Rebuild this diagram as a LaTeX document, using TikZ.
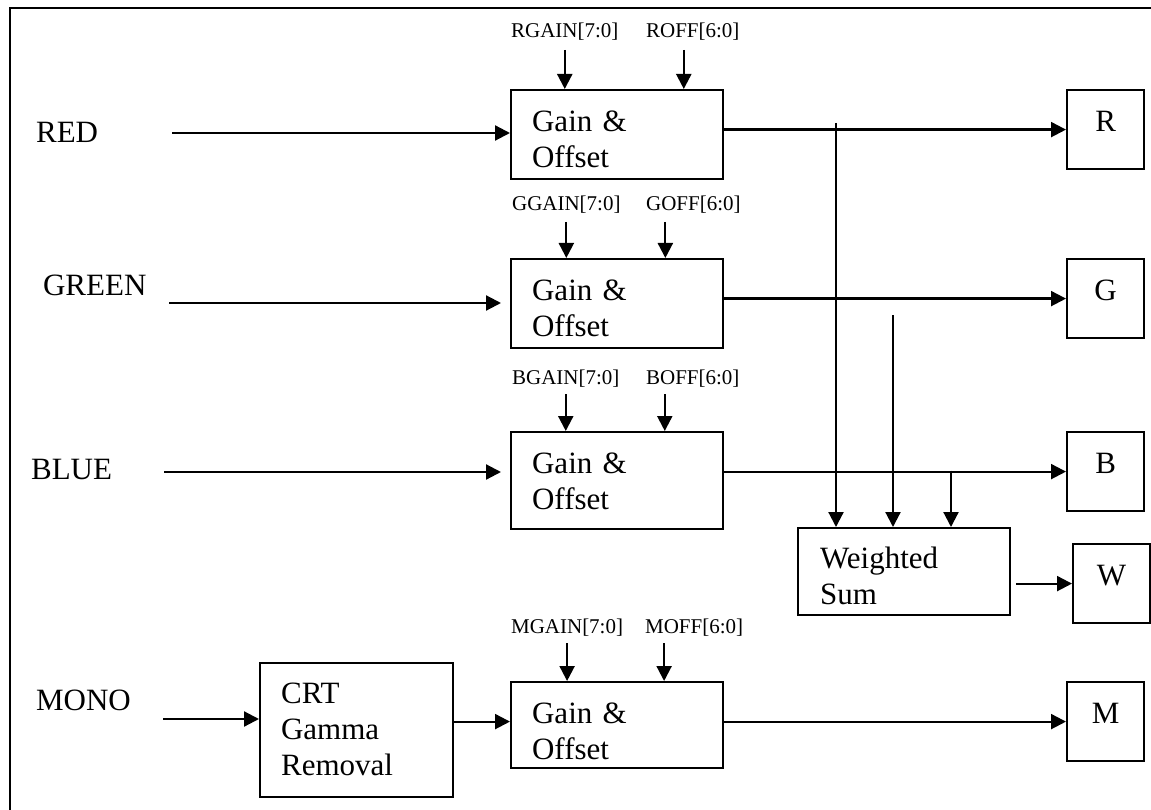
\documentclass[tikz,border=0pt]{standalone}
\usepackage{fontspec}
\setmainfont{Liberation Serif}
\usetikzlibrary{arrows.meta}
\newcommand\bigtxt{\fontsize{31}{36}\selectfont}
\newcommand\smalltxt{\fontsize{21}{24}\selectfont}
\begin{document}
\begin{tikzpicture}[x=1pt,y=-1pt,>={Triangle[length=15pt,width=15pt]},line width=2.2pt,
    blk/.style={draw,anchor=north west,inner xsep=21pt,inner ysep=0pt,text width=170pt,text height=41pt,align=left,font=\bigtxt},
    outbox/.style={draw,anchor=north west,inner sep=0pt,text width=77pt,text height=41pt,text depth=38pt,align=center,font=\bigtxt},
    ctl/.style={anchor=base west,inner sep=0pt,font=\smalltxt},
    sig/.style={anchor=base west,inner sep=0pt,font=\bigtxt}]
    \useasboundingbox (0,0) rectangle (1151,810);
    \draw (1151,8)--(10,8)--(10,810);

    % input names
    \node[sig] (red) at (35,143) {RED};
    \node[sig] (green) at (42,295) {GREEN};
    \node[sig] (blue) at (30,479) {BLUE};
    \node[sig] (mono) at (35,710) {MONO};

    % blocks
    \node[blk,text depth=48pt] (g1) at (510,89) {Gain \&\\Offset};
    \node[blk,text depth=48pt] (g2) at (510,258) {Gain \&\\Offset};
    \node[blk,text depth=56pt] (g3) at (510,431) {Gain \&\\Offset};
    \node[blk,text depth=45pt] (g4) at (510,681) {Gain \&\\Offset};
    \node[blk,text width=151pt,text height=40pt,text depth=94pt] (crt) at (259,662) {CRT\\Gamma\\Removal};
    \node[blk,inner xsep=22pt,text width=168pt,text height=40pt,text depth=47pt] (ws) at (797,527) {Weighted\\Sum};

    % outputs
    \node[outbox] (r) at (1066,89) {R};
    \node[outbox] (g) at (1066,258) {G};
    \node[outbox] (b) at (1066,431) {B};
    \node[outbox] (w) at (1072,543) {W};
    \node[outbox] (m) at (1066,681) {M};

    % gain and offset controls
    \node[ctl] (rgain) at (510,38) {RGAIN[7:0]};
    \node[ctl] (roff) at (645,38) {ROFF[6:0]};
    \node[ctl] (ggain) at (511,211) {GGAIN[7:0]};
    \node[ctl] (goff) at (645,211) {GOFF[6:0]};
    \node[ctl] (bgain) at (511,384) {BGAIN[7:0]};
    \node[ctl] (boff) at (645,384) {BOFF[6:0]};
    \node[ctl] (mgain) at (510,633) {MGAIN[7:0]};
    \node[ctl] (moff) at (644,633) {MOFF[6:0]};

    \draw[->]([yshift=-12pt]rgain.base)--(rgain.base |- g1.north);
    \draw[->]([xshift=-9pt,yshift=-12pt]roff.base)--([xshift=-9pt]roff.base |- g1.north);
    \draw[->]([yshift=-11pt]ggain.base)--(ggain.base |- g2.north);
    \draw[->]([xshift=-28pt,yshift=-11pt]goff.base)--([xshift=-28pt]goff.base |- g2.north);
    \draw[->]([yshift=-10pt]bgain.base)--(bgain.base |- g3.north);
    \draw[->]([xshift=-28pt,yshift=-10pt]boff.base)--([xshift=-28pt]boff.base |- g3.north);
    \draw[->]([yshift=-10pt]mgain.base)--(mgain.base |- g4.north);
    \draw[->]([xshift=-30pt,yshift=-10pt]moff.base)--([xshift=-30pt]moff.base |- g4.north);

    % inputs
    \coordinate (rin) at (172,133);
    \coordinate (gin) at (169,303);
    \coordinate (bin) at (164,472);
    \coordinate (monoin) at (163,719);
    \draw[->](rin)--(rin -| g1.west);
    \draw[->,shorten >=9pt](gin)--(gin -| g2.west);
    \draw[->,shorten >=9pt](bin)--(bin -| g3.west);
    \draw[->](monoin)--(monoin -| crt.west);
    \draw[->](crt.east |- m.west)--(g4.west |- m.west);

    % outputs
    \draw[->](g1.east |- r.west)--(r.west);
    \draw[->](g2.east |- g.west)--(g.west);
    \draw[->](g3.east |- b.west)--(b.west);
    \draw[->](g4.east |- m.west)--(m.west);
    \draw[->]([xshift=5pt]ws.east |- w.west)--(w.west);

    % taps into the weighted sum
    \coordinate (t1) at (836,123);
    \coordinate (t2) at (893,315);
    \coordinate (t3) at (951,470.5);
    \draw[->](t1)--(t1 |- ws.north);
    \draw[->](t2)--(t2 |- ws.north);
    \draw[->](t3)--(t3 |- ws.north);

\end{tikzpicture}
\end{document}
